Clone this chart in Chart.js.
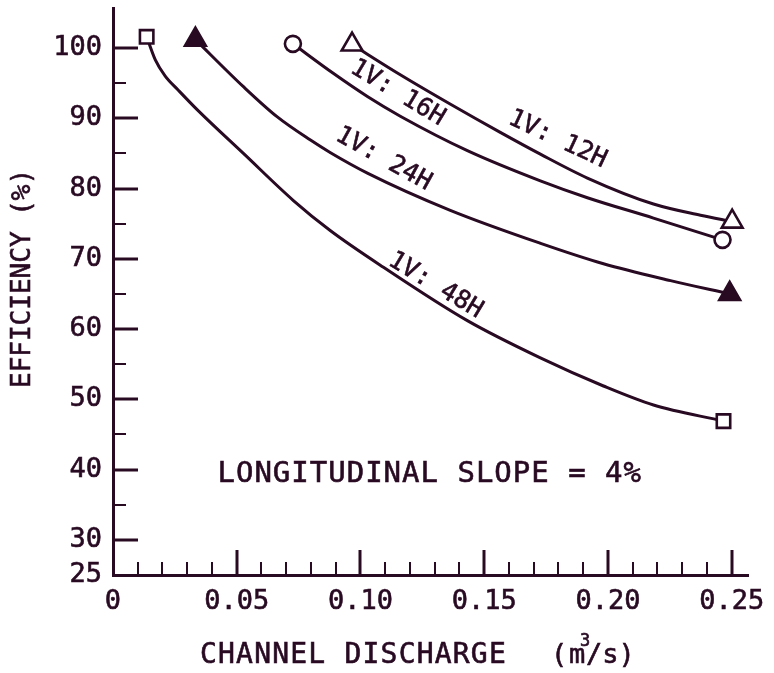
<!DOCTYPE html>
<html>
<head>
<meta charset="utf-8">
<script src="https://cdn.jsdelivr.net/npm/chart.js@4"></script>
<style>
  html, body { margin: 0; padding: 0; background: #fff; }
  canvas { display: block; }
</style>
</head>
<body>
<canvas id="chart" width="774" height="673"></canvas>
<script>
// Efficiency vs channel discharge, one curve per side slope
const slopeNames = ['1V: 12H', '1V: 16H', '1V: 24H', '1V: 48H'];

const q12 = [0.0966, 0.1161, 0.1364, 0.1565, 0.1727, 0.1917, 0.2184, 0.2374, 0.2502];
const eff12 = [100.5, 96.2, 92.0, 88.0, 84.9, 81.5, 77.8, 76.2, 75.3];

const q16 = [0.0727, 0.0890, 0.1028, 0.1161, 0.1432, 0.1727, 0.1917, 0.2184, 0.2463];
const eff16 = [100.6, 96.4, 93.1, 90.3, 85.4, 81.1, 78.7, 75.8, 72.7];

const q24 = [0.0333, 0.0527, 0.0664, 0.0798, 0.0879, 0.1028, 0.1363, 0.1728, 0.1982, 0.2253, 0.2492];
const eff24 = [101.2, 94.5, 90.2, 86.9, 85.1, 82.2, 76.9, 72.2, 69.3, 66.9, 65.0];

const q48 = [0.0136, 0.0171, 0.0211, 0.0264, 0.0341, 0.0527, 0.0729, 0.0879, 0.1093, 0.1432, 0.1727, 0.1982, 0.2184, 0.2467];
const eff48 = [101.6, 98.3, 96.0, 94.0, 91.2, 85.0, 78.3, 74.0, 68.8, 61.2, 55.9, 51.9, 49.2, 46.9];

const xTickValues = [0, 0.05, 0.10, 0.15, 0.20, 0.25];
const xTickLabels = ['0', '0.05', '0.10', '0.15', '0.20', '0.25'];
const yTickValues = [25, 30, 40, 50, 60, 70, 80, 90, 100];

const ink = '#280a22';
const mono = "'DejaVu Sans Mono', monospace";

// where the slope names sit along their curves (data units, degrees)
const nameSpots = [
  { x: 0.1796, y: 87.0, angle: 25 },
  { x: 0.1150, y: 93.6, angle: 31 },
  { x: 0.1093, y: 84.2, angle: 29 },
  { x: 0.1303, y: 66.2, angle: 31 }
];

function series(xs, ys, style, filled, radius) {
  const last = xs.length - 1;
  return {
    data: xs.map((x, i) => ({ x, y: ys[i] })),
    showLine: true,
    borderColor: ink,
    borderWidth: 3,
    cubicInterpolationMode: 'monotone',
    pointStyle: style,
    pointRadius: c => (c.dataIndex === 0 || c.dataIndex === last) ? radius : 0,
    pointBackgroundColor: filled ? ink : '#fff',
    pointBorderColor: ink,
    pointBorderWidth: 2.6,
    clip: false
  };
}

// inward tick marks, long at labelled values and short in between
const inwardTicks = {
  id: 'inwardTicks',
  afterDatasetsDraw(chart) {
    const { ctx, chartArea, scales: { x, y } } = chart;
    ctx.save();
    ctx.strokeStyle = ink;
    for (let i = 1; i <= 25; i++) {
      const major = i % 5 === 0;
      const px = Math.round(x.getPixelForValue(i / 100));
      ctx.lineWidth = major ? 3 : 2;
      ctx.beginPath();
      ctx.moveTo(px, chartArea.bottom);
      ctx.lineTo(px, chartArea.bottom - (major ? 25 : 13));
      ctx.stroke();
    }
    for (let v = 30; v <= 100; v += 5) {
      const major = v % 10 === 0;
      const py = Math.round(y.getPixelForValue(v));
      ctx.lineWidth = major ? 3 : 2;
      ctx.beginPath();
      ctx.moveTo(chartArea.left, py);
      ctx.lineTo(chartArea.left + (major ? 25 : 13), py);
      ctx.stroke();
    }
    ctx.restore();
  }
};

// fill plus a thin outline so the lettering looks as heavy as the lines
function inkText(ctx, text, x, y) {
  ctx.fillText(text, x, y);
  ctx.strokeText(text, x, y);
}

// slope names, the note and the axis titles
const chartText = {
  id: 'chartText',
  afterDraw(chart) {
    const { ctx, chartArea, scales: { x, y } } = chart;
    ctx.save();
    ctx.fillStyle = ink;
    ctx.strokeStyle = ink;
    ctx.lineWidth = 0.6;
    ctx.textAlign = 'center';
    ctx.textBaseline = 'middle';

    ctx.font = `25px ${mono}`;
    slopeNames.forEach((name, i) => {
      const s = nameSpots[i];
      ctx.save();
      ctx.translate(x.getPixelForValue(s.x), y.getPixelForValue(s.y));
      ctx.rotate(s.angle * Math.PI / 180);
      inkText(ctx, name, 0, 0);
      ctx.restore();
    });

    ctx.font = `29px ${mono}`;
    ctx.letterSpacing = '1px';
    inkText(ctx, 'LONGITUDINAL SLOPE = 4%', x.getPixelForValue(0.128), y.getPixelForValue(39.3));

    // x title
    ctx.textAlign = 'left';
    ctx.font = `28px ${mono}`;
    ctx.letterSpacing = '1.2px';
    const ty = chartArea.bottom + 81;
    inkText(ctx, 'CHANNEL DISCHARGE', 200, ty);
    ctx.font = `27px ${mono}`;
    ctx.letterSpacing = '0px';
    inkText(ctx, '(', 551, ty);
    inkText(ctx, 'm', 569, ty);
    inkText(ctx, '/s)', 586, ty);
    ctx.font = `17px ${mono}`;
    inkText(ctx, '3', 580, ty - 14);

    // y title
    ctx.font = `26px ${mono}`;
    ctx.translate(23, 388);
    ctx.rotate(-Math.PI / 2);
    inkText(ctx, 'EFFICIENCY (%)', 0, 0);
    ctx.restore();
  }
};

const tickFont = { family: mono, size: 27 };

new Chart(document.getElementById('chart'), {
  type: 'scatter',
  data: {
    datasets: [
      series(q12, eff12, 'triangle', false, 12),
      series(q16, eff16, 'circle', false, 8),
      series(q24, eff24, 'triangle', true, 12),
      series(q48, eff48, 'rect', false, 9.5)
    ]
  },
  options: {
    responsive: false,
    animation: false,
    layout: { autoPadding: false, padding: { top: 8, right: 26, left: 0, bottom: 0 } },
    plugins: { legend: { display: false }, tooltip: { enabled: false } },
    scales: {
      x: {
        type: 'linear',
        min: 0,
        max: 0.2566,
        afterBuildTicks: s => { s.ticks = xTickValues.map(value => ({ value })); },
        afterFit: s => { s.height = 98; s.paddingLeft = 0; s.paddingRight = 0; },
        grid: { display: false, drawTicks: false },
        border: { display: true, color: ink, width: 3 },
        ticks: {
          color: ink,
          textStrokeColor: ink,
          textStrokeWidth: 0.6,
          padding: 11,
          maxRotation: 0,
          autoSkip: false,
          font: tickFont,
          callback: (v, i) => xTickLabels[i]
        }
      },
      y: {
        min: 25,
        max: 105.7,
        afterBuildTicks: s => { s.ticks = yTickValues.map(value => ({ value })); },
        afterFit: s => { s.width = 113; s.paddingTop = 0; s.paddingBottom = 0; },
        grid: { display: false, drawTicks: false },
        border: { display: true, color: ink, width: 3 },
        ticks: {
          color: ink,
          textStrokeColor: ink,
          textStrokeWidth: 0.6,
          padding: 11,
          autoSkip: false,
          font: tickFont,
          callback: v => String(v)
        }
      }
    }
  },
  plugins: [inwardTicks, chartText]
});
</script>
</body>
</html>
